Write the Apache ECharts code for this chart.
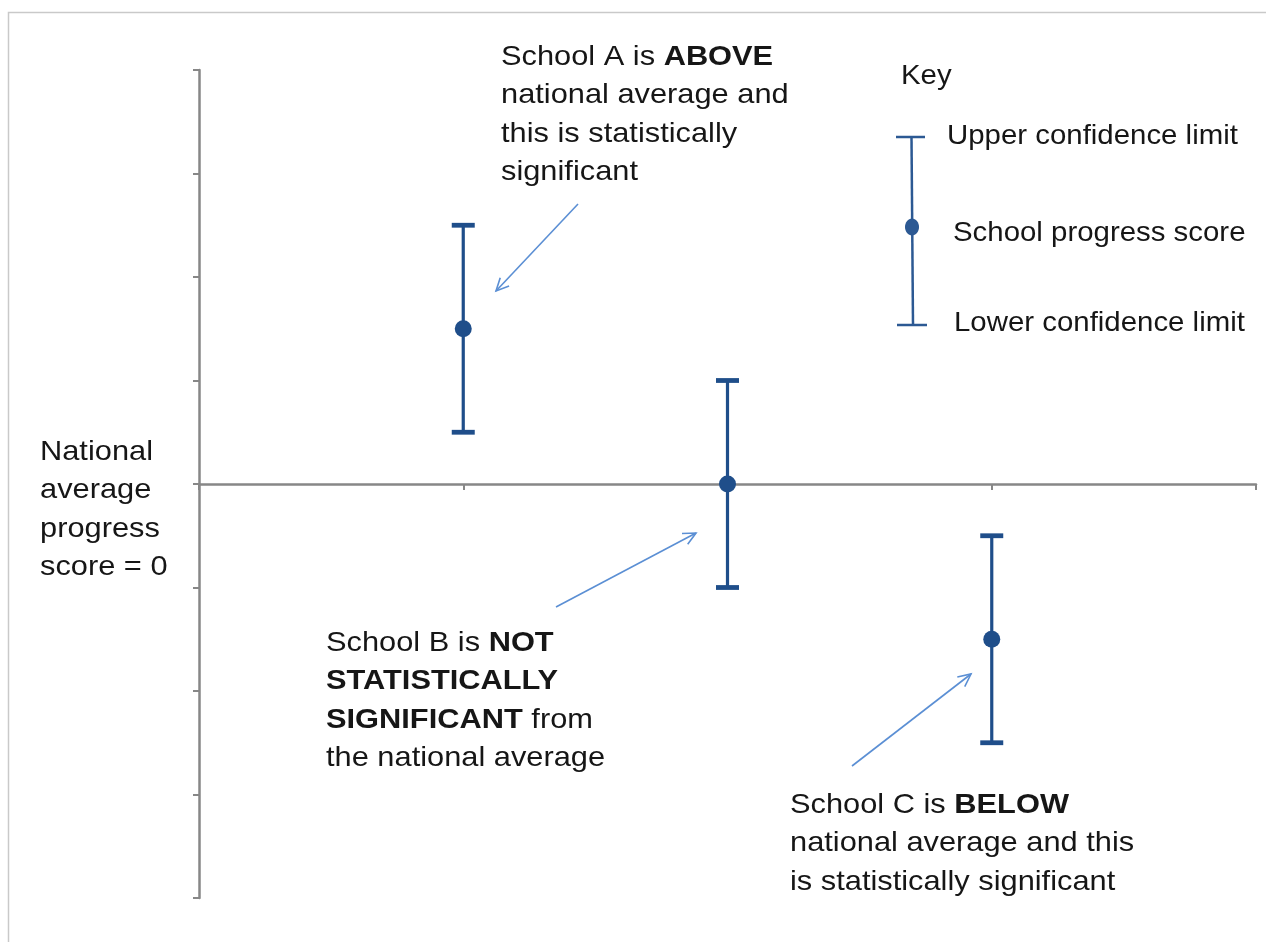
<!DOCTYPE html>
<html>
<head>
<meta charset="utf-8">
<script src="https://cdn.jsdelivr.net/npm/echarts@6/dist/echarts.min.js"></script>
<style>
html,body{margin:0;padding:0;background:#fff;}
#main{width:1266px;height:942px;}
</style>
</head>
<body>
<div id="main"></div>
<script>
// ---- data ----
var schools = ['School A', 'School B', 'School C'];
var schoolX = [1, 2, 3];
var progressScore = [1.5, 0, -1.5];
var lowerLimit = [0.5, -1, -2.5];
var upperLimit = [2.5, 1, -0.5];

var BAR_COLOR = '#1f4e8a';
var KEY_COLOR = '#2c5993';
var ARROW_COLOR = '#5b8fd4';
var AXIS_COLOR = '#878787';
var FONT = "'Liberation Sans', Arial, sans-serif";
var TEXT_COLOR = '#161616';

var seriesData = schools.map(function (name, i) {
  return { name: name, value: [schoolX[i], lowerLimit[i], progressScore[i], upperLimit[i]] };
});

function renderErrorBar(params, api) {
  var x = api.value(0);
  var pLo = api.coord([x, api.value(1)]);
  var pMid = api.coord([x, api.value(2)]);
  var pHi = api.coord([x, api.value(3)]);
  var half = 11.5;
  return {
    type: 'group',
    children: [
      { type: 'line', shape: { x1: pLo[0], y1: pLo[1], x2: pHi[0], y2: pHi[1] }, style: { stroke: BAR_COLOR, lineWidth: 3.2 } },
      { type: 'line', shape: { x1: pHi[0] - half, y1: pHi[1], x2: pHi[0] + half, y2: pHi[1] }, style: { stroke: BAR_COLOR, lineWidth: 4.8 } },
      { type: 'line', shape: { x1: pLo[0] - half, y1: pLo[1], x2: pLo[0] + half, y2: pLo[1] }, style: { stroke: BAR_COLOR, lineWidth: 4.8 } },
      { type: 'circle', shape: { cx: pMid[0], cy: pMid[1], r: 8.5 }, style: { fill: BAR_COLOR } }
    ]
  };
}

function arrow(x1, y1, x2, y2) {
  var ang = Math.atan2(y2 - y1, x2 - x1);
  var L = 14, a = Math.PI / 7;
  var h1 = [x2 - L * Math.cos(ang - a), y2 - L * Math.sin(ang - a)];
  var h2 = [x2 - L * Math.cos(ang + a), y2 - L * Math.sin(ang + a)];
  return {
    type: 'group',
    children: [
      { type: 'line', shape: { x1: x1, y1: y1, x2: x2, y2: y2 }, style: { stroke: ARROW_COLOR, lineWidth: 1.6 } },
      { type: 'polyline', shape: { points: [h1, [x2, y2], h2] }, style: { stroke: ARROW_COLOR, lineWidth: 1.6, fill: null } }
    ]
  };
}

function label(x, y, text, sx, va) {
  return {
    type: 'text', x: x, y: y, scaleX: sx || 1,
    style: {
      text: text, x: 0, y: 0, fontSize: 28, lineHeight: 38.5, fontFamily: FONT, fill: TEXT_COLOR,
      align: 'left', verticalAlign: va || 'top',
      rich: { b: { fontWeight: 'bold', fontSize: 28, lineHeight: 38.5, fontFamily: FONT, fill: TEXT_COLOR } }
    },
    z: 10
  };
}

var chart = echarts.init(document.getElementById('main'), null, { renderer: 'canvas' });
chart.setOption({
  animation: false,
  backgroundColor: '#fff',
  grid: { left: 199, right: 10, top: 70, bottom: 44, containLabel: false },
  xAxis: {
    type: 'value', min: 0, max: 4, interval: 1,
    axisLine: { show: true, onZero: true, lineStyle: { color: AXIS_COLOR, width: 2.5 } },
    axisTick: { show: true, inside: false, length: 6, lineStyle: { color: AXIS_COLOR, width: 2 } },
    axisLabel: { show: false },
    splitLine: { show: false }
  },
  yAxis: {
    type: 'value', min: -4, max: 4, interval: 1,
    axisLine: { show: true, lineStyle: { color: AXIS_COLOR, width: 2.5 } },
    axisTick: { show: true, inside: false, length: 6, lineStyle: { color: AXIS_COLOR, width: 2 } },
    axisLabel: { show: false },
    splitLine: { show: false }
  },
  series: [{
    type: 'custom',
    name: 'Progress score',
    renderItem: renderErrorBar,
    data: seriesData,
    clip: false,
    z: 5
  }],
  graphic: [
    { type: 'rect', shape: { x: 8.5, y: 12.5, width: 1300, height: 1000 }, style: { fill: null, stroke: '#c9c9c9', lineWidth: 1.5 }, z: 0, silent: true },
    label(501, 38, 'School A is {b|ABOVE}\nnational average and\nthis is statistically\nsignificant', 1.1),
    label(326, 624, 'School B is {b|NOT}\n{b|STATISTICALLY}\n{b|SIGNIFICANT} from\nthe national average', 1.1),
    label(790, 786, 'School C is {b|BELOW}\nnational average and this\nis statistically significant', 1.1),
    label(40, 433, 'National\naverage\nprogress\nscore = 0', 1.1),
    label(901, 76, 'Key', 1.05, 'middle'),
    label(947, 136, 'Upper confidence limit', 1.05, 'middle'),
    label(953, 233, 'School progress score', 1.05, 'middle'),
    label(954, 323, 'Lower confidence limit', 1.05, 'middle'),
    // key glyph
    { type: 'line', shape: { x1: 911.5, y1: 137, x2: 913, y2: 325 }, style: { stroke: KEY_COLOR, lineWidth: 2.5 }, z: 10 },
    { type: 'line', shape: { x1: 896, y1: 137, x2: 925, y2: 137 }, style: { stroke: KEY_COLOR, lineWidth: 2.5 }, z: 10 },
    { type: 'line', shape: { x1: 897, y1: 325, x2: 927, y2: 325 }, style: { stroke: KEY_COLOR, lineWidth: 2.5 }, z: 10 },
    { type: 'ellipse', shape: { cx: 912, cy: 227, rx: 7, ry: 8.5 }, style: { fill: KEY_COLOR }, z: 10 },
    // arrows
    arrow(578, 204, 496, 291),
    arrow(556, 607, 696, 533),
    arrow(852, 766, 971, 674)
  ]
});
</script>
</body>
</html>
